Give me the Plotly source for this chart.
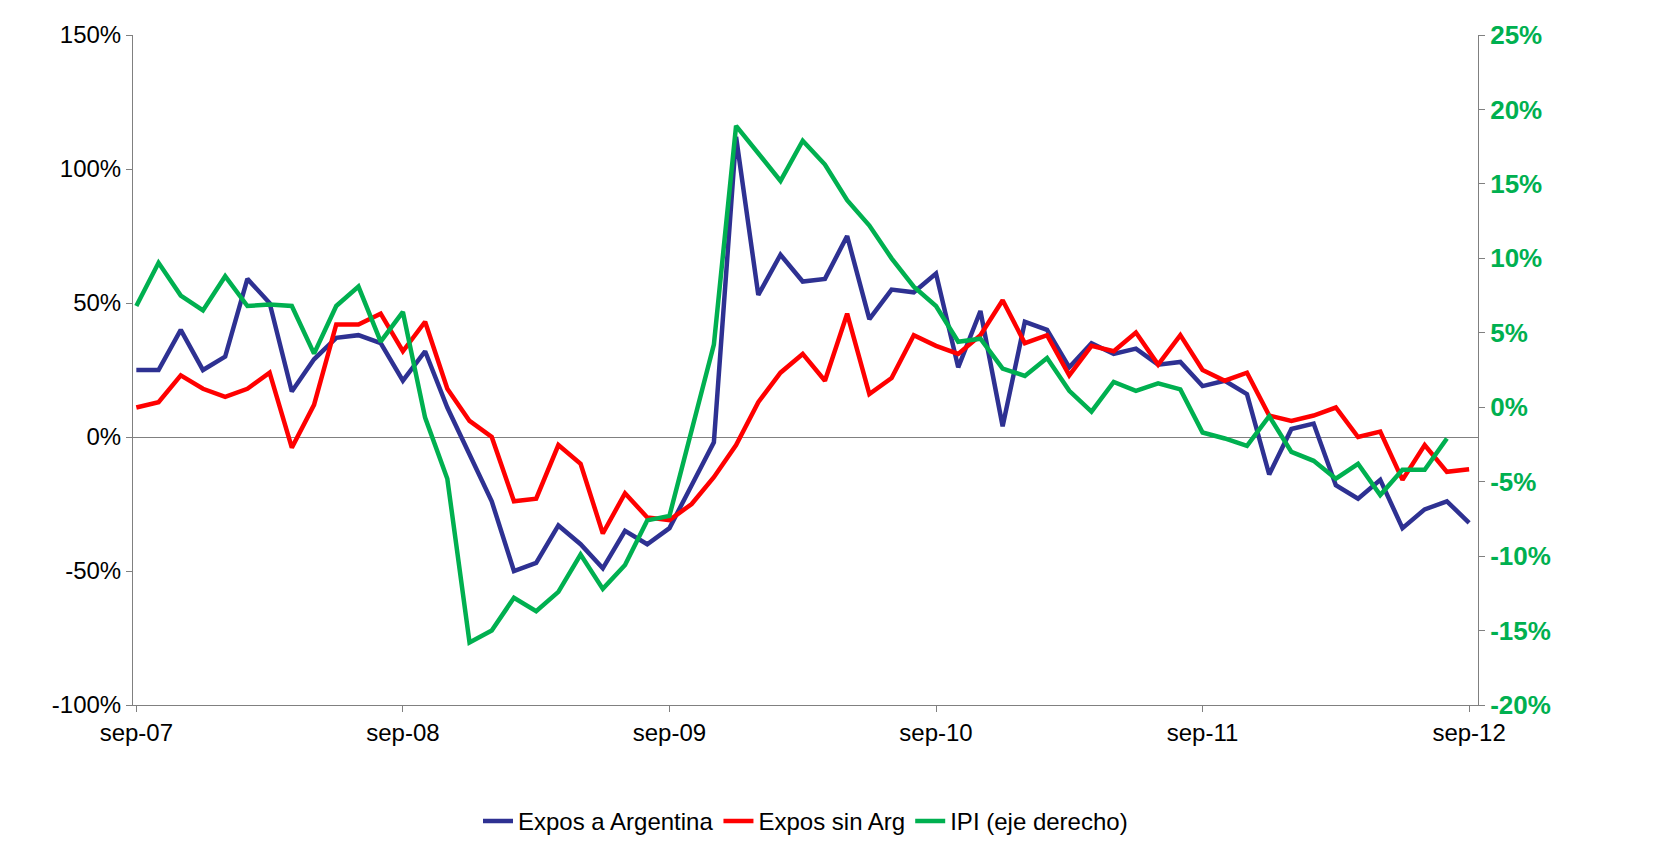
import plotly.graph_objects as go

meses = ["ene","feb","mar","abr","may","jun","jul","ago","sep","oct","nov","dic"]
categories = []
y, m = 2007, 8
for _ in range(61):
    categories.append(f"{meses[m]}-{str(y)[2:]}")
    m += 1
    if m == 12:
        m = 0; y += 1

expos_arg = [25,25,40,25,30,59,50,17,29,37,38,35,21,32,11,-7,-24,-50,-47,-33,-40,-49,-35,-40,-34,
             -18,-2,112,53,68,58,59,75,44,55,54,61,26,47,4,43,40,26,35,31,33,27,28,19,21,16,-14,3,5,
             -18,-23,-16,-34,-27,-24,-32]
expos_sin = [11,13,23,18,15,18,24,-4,12,42,42,46,32,43,18,6,0,-24,-23,-3,-10,-36,-21,-30,-31,-25,
             -15,-3,13,24,31,21,46,16,22,38,34,31,38,51,35,38,23,34,32,39,27,38,25,21,24,8,6,8,11,0,2,
             -16,-3,-13,-12]
ipi = [6.8,9.7,7.5,6.5,8.8,6.8,6.9,6.8,3.6,6.8,8.1,4.4,6.4,-0.7,-4.8,-15.8,-15,-12.8,-13.7,-12.4,-9.9,
       -12.2,-10.6,-7.6,-7.3,-1.4,4.2,18.9,17,15.2,17.9,16.3,13.9,12.2,10,8.1,6.8,4.4,4.6,2.6,2.1,3.3,
       1.1,-0.3,1.7,1.1,1.6,1.2,-1.7,-2.1,-2.6,-0.6,-3,-3.6,-4.8,-3.8,-5.9,-4.2,-4.2,-2.1,None]

left_ticks = [-100,-50,0,50,100,150]
right_ticks = [-20,-15,-10,-5,0,5,10,15,20,25]
xs = list(range(len(categories)))
sep_idx = [i for i, c in enumerate(categories) if c.startswith("sep")]

fig = go.Figure()
fig.add_trace(go.Scatter(x=xs, y=expos_arg, name="Expos a Argentina", mode="lines",
                         line=dict(color="#2e3192", width=4.5)))
fig.add_trace(go.Scatter(x=xs, y=expos_sin, name="Expos sin Arg", mode="lines",
                         line=dict(color="#ff0000", width=4.5)))
fig.add_trace(go.Scatter(x=xs, y=ipi, name="IPI (eje derecho)", mode="lines", yaxis="y2",
                         line=dict(color="#00b050", width=4.5)))

fig.update_layout(
    width=1671, height=856, plot_bgcolor="white", paper_bgcolor="white",
    margin=dict(l=125, r=201, t=27, b=159),
    font=dict(family="Liberation Sans, Arial", size=24, color="black"),
    xaxis=dict(range=[-0.15, 60.4], tickvals=sep_idx,
               ticktext=[categories[i] for i in sep_idx], showgrid=False, zeroline=False,
               showline=True, linecolor="#808080", ticks="outside", ticklen=6, tickcolor="#808080"),
    yaxis=dict(range=[-100, 150], tickvals=left_ticks, ticktext=[f"{v}%" for v in left_ticks],
               showgrid=False, zeroline=True, zerolinecolor="#808080", zerolinewidth=1,
               showline=True, linecolor="#808080", ticks="outside", ticklen=6, tickcolor="#808080"),
    yaxis2=dict(range=[-20, 25], tickvals=right_ticks, ticktext=[f"{v}%" for v in right_ticks],
                overlaying="y", side="right", showgrid=False, zeroline=False,
                showline=True, linecolor="#808080", ticks="outside", ticklen=6, tickcolor="#808080",
                tickfont=dict(color="#00b050", size=26, family="Liberation Sans, Arial", weight="bold")),
    legend=dict(orientation="h", x=0.5, xanchor="center", y=-0.14, yanchor="top",
                font=dict(size=24)),
)
fig.write_html("out.html")
